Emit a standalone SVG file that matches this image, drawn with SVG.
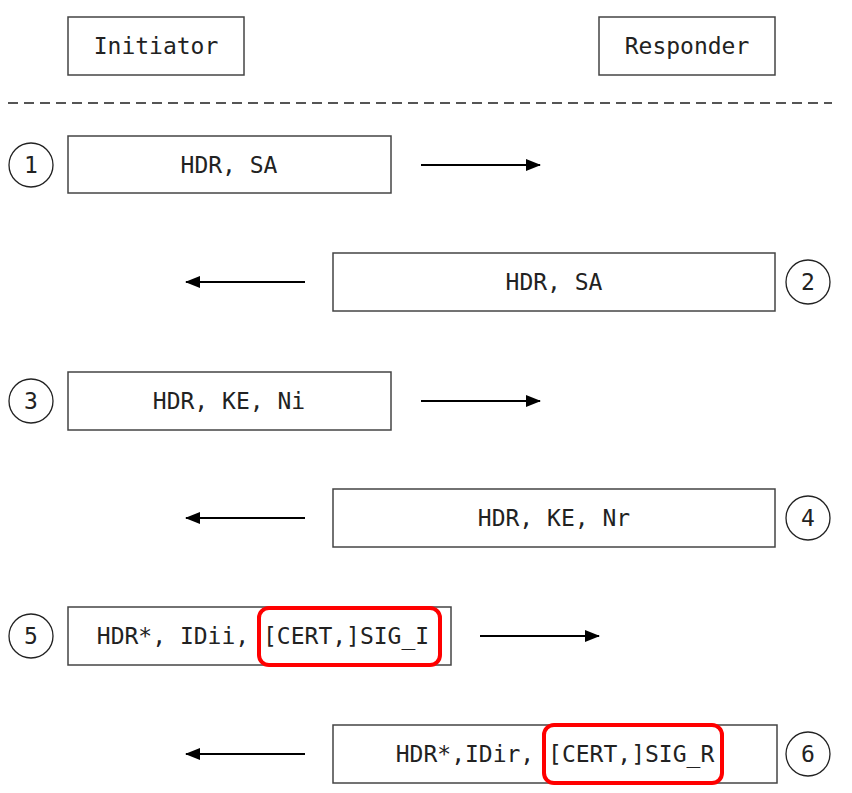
<svg xmlns="http://www.w3.org/2000/svg" width="852" height="793" viewBox="0 0 852 793">
<style>
.box{fill:#fff;stroke:#444;stroke-width:1.5}
.num{fill:#fff;stroke:#222;stroke-width:1.3}
.t{font-family:"DejaVu Sans Mono","Liberation Mono",monospace;font-size:23px;fill:#222;text-anchor:middle}
.hl{fill:none;stroke:#f00;stroke-width:4}
.arr{stroke:#000;stroke-width:2;fill:none}
</style>
<defs>
<marker id="ah" markerWidth="15" markerHeight="12" refX="14" refY="6" orient="auto" markerUnits="userSpaceOnUse">
<path d="M0,0 L15,6 L0,12 z" fill="#000"/>
</marker>
</defs>
<rect width="852" height="793" fill="#fff"/>
<g id="initiator"><rect class="box" x="68" y="17" width="176" height="58"/><text class="t" x="156" y="54">Initiator</text></g>
<g id="responder"><rect class="box" x="599" y="17" width="176" height="58"/><text class="t" x="687" y="54">Responder</text></g>
<line x1="8" y1="103" x2="832" y2="103" stroke="#555" stroke-width="2.2" stroke-dasharray="10,6"/>
<g id="msg1"><circle class="num" cx="31" cy="165" r="22"/><text class="t" x="31" y="173">1</text><rect class="box" x="68" y="136" width="323" height="57"/><text class="t" x="229" y="173">HDR, SA</text></g>
<g id="msg2"><rect class="box" x="333" y="253" width="442" height="58"/><text class="t" x="554" y="290">HDR, SA</text><circle class="num" cx="808" cy="282" r="22"/><text class="t" x="808" y="290">2</text></g>
<g id="msg3"><circle class="num" cx="31" cy="401" r="22"/><text class="t" x="31" y="409">3</text><rect class="box" x="68" y="372" width="323" height="58"/><text class="t" x="229" y="409">HDR, KE, Ni</text></g>
<g id="msg4"><rect class="box" x="333" y="489" width="442" height="58"/><text class="t" x="554" y="526">HDR, KE, Nr</text><circle class="num" cx="808" cy="518" r="22"/><text class="t" x="808" y="526">4</text></g>
<g id="msg5"><circle class="num" cx="31" cy="636" r="22"/><text class="t" x="263" y="644">HDR*, IDii, [CERT,]SIG_I</text><text class="t" x="31" y="644">5</text><rect class="box" x="68" y="607" width="383" height="58" style="fill:none"/><rect class="hl" x="259" y="608" width="181" height="57" rx="10"/></g>
<g id="msg6"><rect class="box" x="333" y="725" width="444" height="58"/><text class="t" x="555" y="762">HDR*,IDir, [CERT,]SIG_R</text><rect class="hl" x="544" y="725" width="178" height="58" rx="10"/><circle class="num" cx="808" cy="754" r="22"/><text class="t" x="808" y="762">6</text></g>
<g id="connectors">
<line class="arr" x1="421" y1="165" x2="540" y2="165" marker-end="url(#ah)"/>
<line class="arr" x1="305" y1="282" x2="186" y2="282" marker-end="url(#ah)"/>
<line class="arr" x1="421" y1="401" x2="540" y2="401" marker-end="url(#ah)"/>
<line class="arr" x1="305" y1="518" x2="186" y2="518" marker-end="url(#ah)"/>
<line class="arr" x1="480" y1="636" x2="599" y2="636" marker-end="url(#ah)"/>
<line class="arr" x1="305" y1="754" x2="186" y2="754" marker-end="url(#ah)"/>
</g>
</svg>
